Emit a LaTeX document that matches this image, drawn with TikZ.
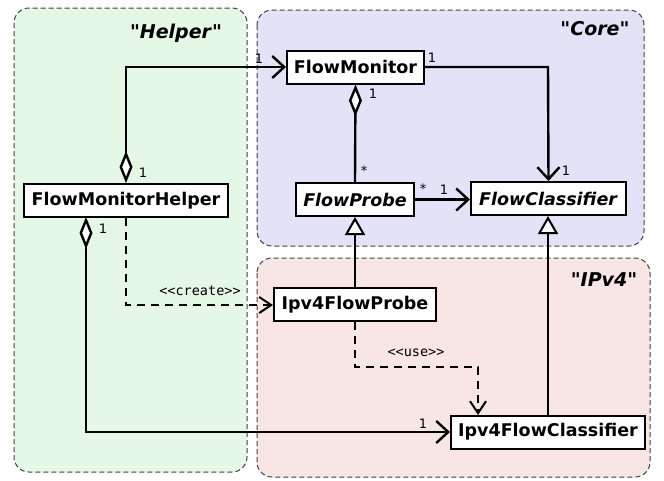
\documentclass[tikz,border=0pt]{standalone}
\usepackage{fontspec}
\setmainfont{DejaVu Sans}
\setmonofont{DejaVu Sans Mono}
\newfontfamily\titlefont{DejaVu Sans}
\usetikzlibrary{arrows.meta}
\definecolor{helperbg}{HTML}{E5F7E5}
\definecolor{corebg}{HTML}{E3E3F7}
\definecolor{ipbg}{HTML}{F8E6E4}
\definecolor{pkgline}{HTML}{404040}
\tikzset{
  pkg/.style={draw=pkgline, dashed, dash pattern=on 5pt off 3pt, line width=1pt, rounded corners=15pt},
  cls/.style={draw=black, fill=white, line width=2pt, font=\fontsize{17.5}{19}\selectfont\bfseries, inner sep=0pt, minimum height=33pt},
  pkgtitle/.style={font=\fontsize{19}{21}\selectfont\titlefont\bfseries},
  mult/.style={font=\fontsize{13}{15}\selectfont, inner sep=0pt},
  stereo/.style={font=\fontsize{13.5}{15}\selectfont\ttfamily, inner sep=0pt},
  conn/.style={line width=2.4pt},
  assoc/.style={conn, -{Straight Barb[length=12pt,width=22pt,line width=2.4pt]}},
  aggr/.style={conn, {Diamond[open,length=32pt,width=13pt,line width=2.4pt,fill=white]}-{Straight Barb[length=12pt,width=22pt,line width=2.4pt]}},
  aggrline/.style={conn, {Diamond[open,length=32pt,width=13pt,line width=2.4pt,fill=white]}-},
  inherit/.style={conn, -{Triangle[open,length=18pt,width=20pt,line width=2pt,fill=white]}},
  dep/.style={conn, dash pattern=on 8pt off 6pt, -{Straight Barb[length=12pt,width=16pt,line width=2pt]}},
}
\begin{document}
\begin{tikzpicture}[x=1pt,y=-1pt]
\useasboundingbox (0,0) rectangle (664,480);
% packages
\draw[pkg, fill=helperbg] (14,8) rectangle (247,472);
\draw[pkg, fill=corebg] (257,10) rectangle (644,246);
\draw[pkg, fill=ipbg] (257,258) rectangle (650,477);
\node[pkgtitle] (thelper) at (176,33) {"\textit{Helper}"};
\node[pkgtitle] (tcore) at (595,29) {"\textit{Core}"};
\node[pkgtitle] (tipv4) at (604,280) {"\textit{IPv4}"};
% classes
\node[cls, minimum width=137pt] (fm) at (355.5,67) {FlowMonitor};
\node[cls, minimum width=204pt] (fmh) at (126,200.5) {FlowMonitorHelper};
\node[cls, minimum width=118pt] (fp) at (355,199.5) {\textit{FlowProbe}};
\node[cls, minimum width=155pt] (fc) at (548.5,198.5) {\textit{FlowClassifier}};
\node[cls, minimum width=162pt] (ifp) at (355,304.5) {Ipv4FlowProbe};
\node[cls, minimum width=194pt] (ifc) at (548,432) {Ipv4FlowClassifier};
% connectors
\coordinate (c1) at (126,67);
\draw[aggr] (fmh.north) -- (c1) -- (fm.west);
\node[mult] (m1) at (143,173) {1};
\node[mult] (m2) at (259,59) {1};
\coordinate (c2) at (548,67);
\draw[assoc] (fm.east) -- (c2) -- (fc.north);
\node[mult] (m3) at (432,58) {1};
\node[mult] (m4) at (566,171) {1};
\draw[aggrline] (fm.south) -- (fp.north);
\node[mult] (m5) at (373,94) {1};
\node[mult] (m6) at (364,171) {*};
\draw[assoc] (fp.east) -- (fp.east -| fc.west);
\node[mult] (m7) at (423,189) {*};
\node[mult] (m8) at (444,190) {1};
\draw[inherit] (ifp.north) -- (fp.south);
\draw[inherit] (ifc.north) -- (ifc.north |- fc.south);
\coordinate (c3) at (126,305);
\draw[dep] (fmh.south) -- (c3) -- (c3 -| ifp.west);
\node[stereo] (s1) at (200,291) {<<create>>};
\coordinate (c4) at (355,367);
\coordinate (c5) at (478,367);
\coordinate (c6) at (478,415);
\draw[dep] (ifp.south) -- (c4) -- (c5) -- (c6);
\node[stereo] (s2) at (416,353) {<<use>>};
\coordinate (c7) at (86,217);
\coordinate (c8) at (86,432);
\draw[aggr] (c7) -- (c8) -- (ifc.west);
\node[mult] (m9) at (103,229) {1};
\node[mult] (m10) at (423,424) {1};
\end{tikzpicture}
\end{document}
